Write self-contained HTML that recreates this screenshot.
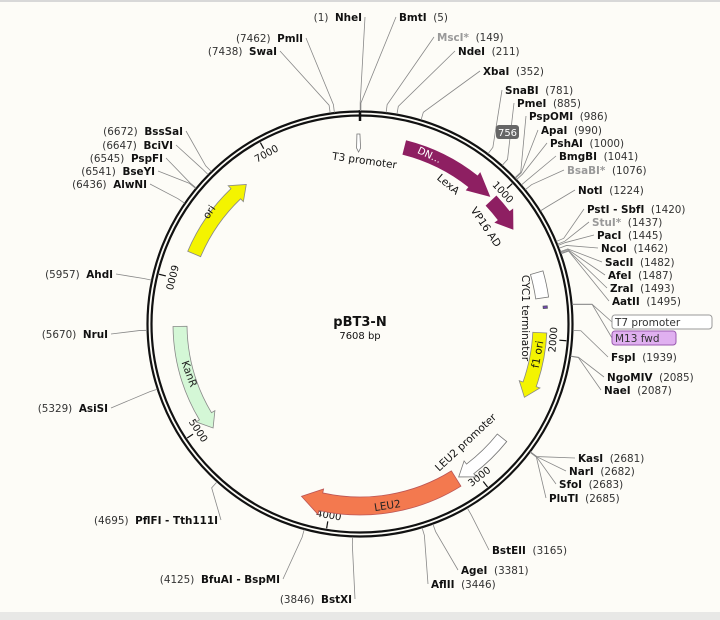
<!DOCTYPE html>
<html><head><meta charset="utf-8"><style>
html,body{margin:0;padding:0;background:#fdfcf7;}
svg{display:block;font-family:"DejaVu Sans","Liberation Sans",sans-serif;}
.lab{font-size:10.4px;fill:#111;}
.nm{font-weight:bold;}
.ps{fill:#333;}
</style></head><body>
<svg id="map" width="720" height="620" viewBox="0 0 720 620">
<rect x="0" y="0" width="720" height="620" fill="#fdfcf7"/>
<rect x="0" y="0" width="720" height="2" fill="#d8d8d8"/>
<rect x="0" y="612" width="720" height="8" fill="#e8e8e6"/>
<g id="g"></g>
</svg>
<script>
// ---- data ----
const plasmidName = "pBT3-N";
const plasmidLength = 7608;
const enzymeNames = ["NheI","BmtI","MscI*","NdeI","XbaI","SnaBI","PmeI","PspOMI","ApaI","PshAI","BmgBI","BsaBI*","NotI","PstI - SbfI","StuI*","PacI","NcoI","SacII","AfeI","ZraI","AatII","FspI","NgoMIV","NaeI","KasI","NarI","SfoI","PluTI","BstEII","AgeI","AflII","BstXI","BfuAI - BspMI","PflFI - Tth111I","AsiSI","NruI","AhdI","AlwNI","BseYI","PspFI","BciVI","BssSaI","SwaI","PmlI"];
const enzymeSites = [1,5,149,211,352,781,885,986,990,1000,1041,1076,1224,1420,1437,1445,1462,1482,1487,1493,1495,1939,2085,2087,2681,2682,2683,2685,3165,3381,3446,3846,4125,4695,5329,5670,5957,6436,6541,6545,6647,6672,7438,7462];
const enzymeGrey = ["MscI*","BsaBI*","StuI*"];
const featureNames = ["LexA","VP16 AD","CYC1 terminator","f1 ori","LEU2 promoter","LEU2","KanR","ori"];
const featureStarts = [300,990,1560,1960,2720,3130,5690,6190];
const featureEnds = [960,1230,1730,2410,3110,4200,4960,6780];
const tickValues = [1000,2000,3000,4000,5000,6000,7000];
// ---- layout (not data) ----
const labelXY = [[362,21,'e'],[399,21,'s'],[437,41,'s'],[458,55,'s'],[483,75,'s'],[505,94,'s'],[517,107,'s'],[529,120,'s'],[541,134,'s'],[550,147,'s'],[559,160,'s'],[567,174,'s'],[578,194,'s'],[587,213,'s'],[592,226,'s'],[597,239,'s'],[601,252,'s'],[605,266,'s'],[608,279,'s'],[610,292,'s'],[612,305,'s'],[611,361,'s'],[607,381,'s'],[604,394,'s'],[578,462,'s'],[569,475,'s'],[559,488,'s'],[549,502,'s'],[492,554,'s'],[461,574,'s'],[431,588,'s'],[352,603,'e'],[280,583,'e'],[218,524,'e'],[108,412,'e'],[108,338,'e'],[113,278,'e'],[147,188,'e'],[155,175,'e'],[163,162,'e'],[173,149,'e'],[183,135,'e'],[277,55,'e'],[303,42,'e']];
const CX=360, CY=324, R=211;
const NS="http://www.w3.org/2000/svg";
const g=document.getElementById('g');
function ang(p){return p/plasmidLength*2*Math.PI;}
function pt(p,r){const a=ang(p);return [CX+r*Math.sin(a), CY-r*Math.cos(a)];}
function mk(tag,attrs,parent){const e=document.createElementNS(NS,tag);for(const k in attrs)e.setAttribute(k,attrs[k]);(parent||g).appendChild(e);return e;}

// backbone
let c1=mk('circle',{cx:CX,cy:CY,r:R+1.5,fill:'none',stroke:'#111','stroke-width':2.2});


let c2=mk('circle',{cx:CX,cy:CY,r:R-2.5,fill:'none',stroke:'#111','stroke-width':2.2});


let o=mk('line',{x1:CX,y1:CY-R-3,x2:CX,y2:CY-R+8,stroke:'#111','stroke-width':2.5});



// ticks
tickValues.forEach(v=>{
  const a=ang(v)*180/Math.PI;
  const [x1,y1]=pt(v,R-4),[x2,y2]=pt(v,R-11);
  let t=mk('line',{x1,y1,x2,y2,stroke:'#111','stroke-width':1.2});
  
  
  const rot = a<=90 ? a : (a<=300 ? a-180 : a-360);
  const [tx,ty]=pt(v,R-17);
  let tl=mk('text',{x:tx,y:ty,transform:`rotate(${rot} ${tx} ${ty})`,'font-size':10,'text-anchor':'middle','dominant-baseline':'middle',fill:'#111'});
  tl.textContent=v;
  
  
});

// arrow path
function arrowPath(s,e,r,w,head){
  const dir=e>s?1:-1;
  const hl=head/(2*Math.PI*r)*plasmidLength*dir;
  let hb=e-hl; if((hb-s)*dir<0)hb=s;
  const ro=r+w/2, ri=r-w/2;
  const p1=pt(s,ro),p2=pt(hb,ro),p3=pt(hb,ro+4),p4=pt(e,r),p5=pt(hb,ri-4),p6=pt(hb,ri),p7=pt(s,ri);
  const sw=dir>0?1:0, large=Math.abs(hb-s)/plasmidLength>0.5?1:0;
  return `M${p1}A${ro},${ro} 0 ${large} ${sw} ${p2}L${p3}L${p4}L${p5}L${p6}A${ri},${ri} 0 ${large} ${1-sw} ${p7}Z`;
}
function arcBox(s,e,r,w){
  const ro=r+w/2, ri=r-w/2;const p1=pt(s,ro),p2=pt(e,ro),p3=pt(e,ri),p4=pt(s,ri);
  return `M${p1}A${ro},${ro} 0 0 1 ${p2}L${p3}A${ri},${ri} 0 0 0 ${p4}Z`;
}
const fstyle=[
 {r:182,w:14,fill:'#8e1f62',st:'#8e1f62',head:22,type:'arrow'},
 {r:180,w:14,fill:'#8e1f62',st:'#8e1f62',head:16,type:'arrow'},
 {r:184,w:13,fill:'#ffffff',st:'#777',type:'box'},
 {r:180,w:14,fill:'#f4f400',st:'#888',head:14,type:'arrow'},
 {r:182,w:12,fill:'#ffffff',st:'#777',head:14,type:'arrow'},
 {r:182,w:18,fill:'#f3794f',st:'#b55',head:20,type:'arrow'},
 {r:180,w:14,fill:'#d4f7d6',st:'#888',head:14,type:'arrow'},
 {r:180,w:14,fill:'#f4f400',st:'#888',head:14,type:'arrow'}
];
featureNames.forEach((n,i)=>{
  const f=fstyle[i];
  const d=f.type==='box'?arcBox(Math.min(featureStarts[i],featureEnds[i]),Math.max(featureStarts[i],featureEnds[i]),f.r,f.w):arrowPath(featureStarts[i],featureEnds[i],f.r,f.w,f.head);
  const p=mk('path',{d,fill:f.fill,stroke:f.st,'stroke-width':0.8});
  
  
});
// T3 promoter small radial mark
{
  const a=pt(7598,190),b=pt(7598,172);
  let t3=mk('path',{d:`M${a[0]-1.5},${a[1]} L${a[0]+1.5},${a[1]} L${b[0]+2},${b[1]-4} L${b[0]},${b[1]} L${b[0]-2},${b[1]-4} Z`,fill:'#fff',stroke:'#777','stroke-width':0.8});
  
  
}
// small primer marks
let pm=mk('path',{d:arcBox(1785,1800,186,4),fill:'#7a3dc8',stroke:'#556'});



// feature labels
function flabel(txt,x,y,rot,opts,name){
  const t=mk('text',Object.assign({x,y,transform:`rotate(${rot} ${x} ${y})`,'font-size':10.5,'text-anchor':'middle',fill:'#111'},opts||{}));
  t.textContent=txt;
  
  
}
flabel('DN...',428,158,25,{fill:'#fff','font-size':10},'lexa-dn-label');
flabel('LexA',446,187,40,{},'lexa-label');
flabel('VP16 AD',483,229,56,{},'vp16-label');
flabel('T3 promoter',364,164,8,{},'t3-promoter-label');
flabel('CYC1 terminator',522,318,90,{},'cyc1-label');
flabel('f1 ori',541,355,-80,{},'f1-ori-label');
flabel('LEU2 promoter',468,445,-43,{},'leu2-promoter-label');
flabel('LEU2',388,509,-9,{fill:'#222'},'leu2-label');
flabel('KanR',186,375,70,{fill:'#222'},'kanr-label');
flabel('ori',212,214,-55,{},'ori-label');
let ctitle=mk('text',{x:CX,y:326,'font-size':13,'font-weight':'bold','text-anchor':'middle',fill:'#111'});
ctitle.textContent=plasmidName;


let csub=mk('text',{x:CX,y:339,'font-size':10,'text-anchor':'middle',fill:'#111'});
csub.textContent=plasmidLength+' bp';



// enzymes
enzymeNames.forEach((n,i)=>{
  const pos=enzymeSites[i];
  const [lx,ly,side]=labelXY[i];
  const [x1,y1]=pt(pos,R+2),[x2,y2]=pt(pos,R+10);
  const ex=side==='s'?lx-3:lx+3, ey=ly-4;
  const l=mk('polyline',{points:`${x1},${y1} ${x2},${y2} ${ex},${ey}`,fill:'none',stroke:'#888','stroke-width':0.8});
  
  
  const grey=enzymeGrey.includes(n);
  const t=mk('text',{x:lx,y:ly,'text-anchor':side==='s'?'start':'end',class:'lab'});
  
  
  const a=document.createElementNS(NS,'tspan');a.setAttribute('class','nm');if(grey)a.setAttribute('fill','#999');a.textContent=n;
  const b=document.createElementNS(NS,'tspan');b.setAttribute('class','ps');b.textContent='('+pos+')';
  if(side==='s'){t.appendChild(a);t.appendChild(document.createTextNode('\u00a0 '));t.appendChild(b);}
  else{t.appendChild(b);t.appendChild(document.createTextNode('\u00a0 '));t.appendChild(a);}
});
// badge 756
let bd=mk('rect',{x:496,y:125,width:23,height:14,rx:3,fill:'#666'});


let bt=mk('text',{x:507.5,y:136,'font-size':10,'text-anchor':'middle',fill:'#fff'});
bt.textContent='756';


// primer boxes
[[ 'T7 promoter',612,315,100,'#fff','#999','t7-promoter-box'],['M13 fwd',612,331,64,'#e0b0f0','#9a5ab0','m13-fwd-box']].forEach(b=>{
  const [x1,y1]=pt(1790,R+2);
  const ln=mk('polyline',{points:`${x1},${y1} ${x1+20},${y1} ${b[1]},${b[2]+7}`,fill:'none',stroke:'#888','stroke-width':0.8});
  
  
  const r=mk('rect',{x:b[1],y:b[2],width:b[3],height:14,rx:3,fill:b[4],stroke:b[5]});
  
  
  const t=mk('text',{x:b[1]+3,y:b[2]+11,'font-size':10.5,fill:'#333'});
  t.textContent=b[0];
  
  
});
</script>
</body></html>
